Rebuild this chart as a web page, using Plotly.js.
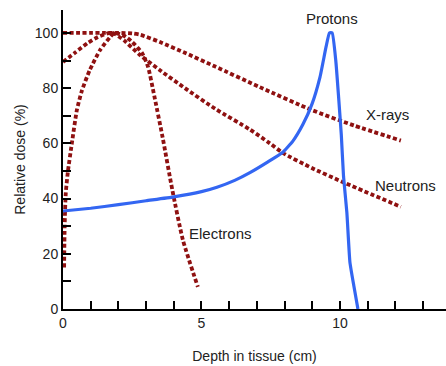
<!DOCTYPE html>
<html>
<head>
<meta charset="utf-8">
<script src="https://cdn.plot.ly/plotly-3.0.1.min.js"></script>
<style>html,body{margin:0;padding:0;background:#fff;}#chart{width:446px;height:366px;}</style>
</head>
<body>
<div id="chart"></div>
<script>
// Depth (cm) and relative dose (%)
const xrayDepth = [0, 0.5, 1.0, 1.5, 2.0, 2.5, 2.8, 3.5, 4.4, 5.5, 7.1, 9.0, 10.5, 12.2];
const xrayDose  = [100, 100, 100, 100, 100, 99.8, 99.3, 96.7, 92.8, 87.8, 80.4, 72, 66.5, 61];

const neutronDepth = [0, 0.43, 0.9, 1.26, 1.6, 1.8, 2.2, 2.78, 3.5, 4.4, 5.5, 6.75, 7.47, 7.94, 9.0, 10.1, 12.2];
const neutronDose  = [89.5, 92.8, 96.4, 98.5, 99.8, 100, 97.3, 92, 86.5, 80, 72.5, 65, 60, 56.5, 51, 46, 37];

const electronDepth = [0.04, 0.06, 0.1, 0.18, 0.32, 0.5, 0.68, 0.97, 1.34, 1.7, 1.85, 2.2, 2.5, 2.85, 3.07, 3.3, 3.6, 3.95, 4.33, 4.87];
const electronDose  = [15, 30, 42, 50, 60, 72, 79, 86.6, 93.8, 98.5, 100, 99, 96.7, 92.8, 87.7, 77, 62, 43, 25, 8];

const protonDepth = [0, 1, 2, 3, 4, 5, 5.56, 6.2, 6.75, 7.4, 7.94, 8.3, 8.66, 8.99, 9.28, 9.5, 9.62, 9.72, 9.85, 9.95, 10.05, 10.13, 10.25, 10.36, 10.5, 10.65];
const protonDose  = [35.5, 36.5, 37.8, 39.2, 40.6, 42.5, 44.1, 46.6, 49.4, 53.3, 56.8, 60.8, 66.8, 74.2, 84, 95, 100, 100, 90, 77, 63, 48, 35, 17, 8.5, 0];

const labelNames = ["Protons", "X-rays", "Neutrons", "Electrons"];
const xTickVals = [0, 5, 10];
const yTickVals = [0, 20, 40, 60, 80, 100];

const red = "#8f1111";
const blue = "#3366f2";
const dashStyle = "4px,2.5px";

const traces = [
  {x: xrayDepth, y: xrayDose, mode: "lines", line: {color: red, width: 3.8, dash: dashStyle, shape: "spline", smoothing: 0.6}, name: "X-rays"},
  {x: neutronDepth, y: neutronDose, mode: "lines", line: {color: red, width: 3.8, dash: dashStyle, shape: "spline", smoothing: 0.6}, name: "Neutrons"},
  {x: electronDepth, y: electronDose, mode: "lines", line: {color: red, width: 3.8, dash: dashStyle, shape: "spline", smoothing: 0.6}, name: "Electrons"},
  {x: protonDepth, y: protonDose, mode: "lines", line: {color: blue, width: 3.2, shape: "spline", smoothing: 0.4}, name: "Protons"}
];

const font = {family: "Liberation Sans, Arial, sans-serif", size: 14, color: "#222"};
const annPos = [[9.71, 105.4], [11.73, 70.3], [12.38, 44.9], [5.67, 27.5]];

const layout = {
  width: 446, height: 366,
  margin: {l: 63, r: 0, t: 10, b: 57},
  paper_bgcolor: "#fff", plot_bgcolor: "#fff",
  showlegend: false,
  font: font,
  xaxis: {
    range: [0, 13.83], showgrid: false, zeroline: false,
    showline: true, linecolor: "#000", linewidth: 2,
    tickvals: xTickVals, ticktext: xTickVals.map(String),
    ticks: "inside", ticklen: 8, tickwidth: 2, tickcolor: "#000",
    minor: {dtick: 1, tick0: 0, ticks: "inside", ticklen: 8, tickwidth: 2, tickcolor: "#000"},
    tickfont: {size: 14, color: "#222"},
    title: {text: "Depth in tissue (cm)", font: {size: 14, color: "#222"}, standoff: 21}
  },
  yaxis: {
    range: [0, 108.3], showgrid: false, zeroline: false,
    showline: true, linecolor: "#000", linewidth: 2,
    tickvals: yTickVals, ticktext: yTickVals.map(String),
    ticks: "inside", ticklen: 8, tickwidth: 2, tickcolor: "#000",
    minor: {dtick: 10, tick0: 0, ticks: "inside", ticklen: 8, tickwidth: 2, tickcolor: "#000"},
    tickfont: {size: 14, color: "#222"},
    title: {text: "Relative dose (%)", font: {size: 14, color: "#222"}, standoff: 6}
  },
  annotations: labelNames.map((t, i) => ({
    x: annPos[i][0], y: annPos[i][1], xref: "x", yref: "y",
    text: t, showarrow: false, font: {size: 15, color: "#222"}
  }))
};

Plotly.newPlot("chart", traces, layout, {displayModeBar: false, staticPlot: true});
</script>
</body>
</html>
